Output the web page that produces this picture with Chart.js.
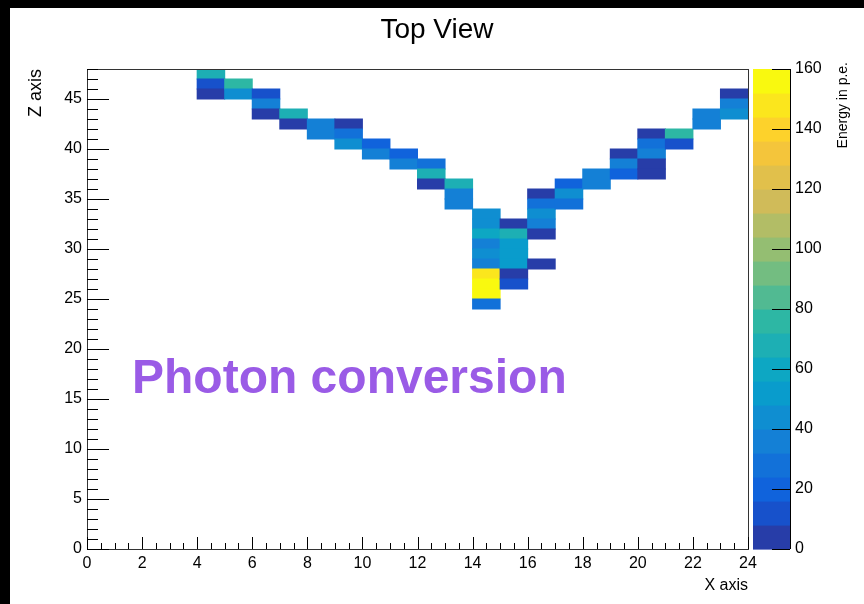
<!DOCTYPE html>
<html>
<head>
<meta charset="utf-8">
<script src="https://cdn.jsdelivr.net/npm/chart.js@4.4.1/dist/chart.umd.min.js"></script>
<style>
  html, body { margin: 0; padding: 0; background: #000; width: 864px; height: 604px; overflow: hidden; }
  #wrap { position: absolute; left: 10px; top: 8px; width: 854px; height: 596px; background: #fff; }
</style>
</head>
<body>
<div id="wrap"><canvas id="c" width="854" height="596"></canvas></div>
<script>
// Hit cells of the top view: lower edge of the X bin, lower edge of the Z bin, energy (p.e.)
const cellX = [4, 4, 4, 5, 5, 6, 6, 6, 7, 7, 8, 8, 9, 9, 9, 10, 10, 11, 11, 12, 12, 12, 13, 13, 13,
  14, 14, 14, 14, 14, 14, 14, 14, 14, 14, 15, 15, 15, 15, 15, 15, 15, 16, 16, 16, 16, 16, 16,
  17, 17, 17, 18, 18, 19, 19, 19, 20, 20, 20, 20, 20, 21, 21, 22, 22, 23, 23, 23];
const cellZ = [47, 46, 45, 46, 45, 45, 44, 43, 43, 42, 42, 41, 42, 41, 40, 40, 39, 39, 38, 38, 37, 36, 36, 35, 34,
  33, 32, 31, 30, 29, 28, 27, 26, 25, 24, 32, 31, 30, 29, 28, 27, 26, 35, 34, 33, 32, 31, 28,
  36, 35, 34, 37, 36, 39, 38, 37, 41, 40, 39, 38, 37, 41, 40, 43, 42, 45, 44, 43];
const cellE = [70, 12, 4, 74, 44, 12, 36, 4, 70, 4, 36, 38, 4, 28, 42, 16, 38, 16, 38, 28, 70, 4, 70, 38, 36,
  42, 44, 58, 36, 42, 36, 150, 158, 155, 30, 4, 66, 52, 50, 50, 4, 12, 4, 28, 44, 34, 4, 4,
  20, 46, 28, 38, 38, 4, 34, 20, 4, 28, 38, 4, 4, 72, 12, 36, 36, 4, 36, 40];

const xRange = [0, 24];
const zRange = [0, 48];
const energyMax = 160;
const nContours = 20;

// kBird palette stops
const birdStops = [0.0, 0.125, 0.25, 0.375, 0.5, 0.625, 0.75, 0.875, 1.0];
const birdRed   = [0.2082, 0.0592, 0.0780, 0.0232, 0.1802, 0.5301, 0.8186, 0.9956, 0.9764];
const birdGreen = [0.1664, 0.3599, 0.5041, 0.6419, 0.7178, 0.7492, 0.7328, 0.7862, 0.9832];
const birdBlue  = [0.5293, 0.8684, 0.8385, 0.7914, 0.6425, 0.4662, 0.3499, 0.1968, 0.0539];

function birdColor(f) {
  f = Math.max(0, Math.min(1, f));
  let s = 0;
  while (s < birdStops.length - 2 && f > birdStops[s + 1]) s++;
  const t = (f - birdStops[s]) / (birdStops[s + 1] - birdStops[s]);
  const mix = a => Math.round(255 * (a[s] + (a[s + 1] - a[s]) * t));
  return `rgb(${mix(birdRed)},${mix(birdGreen)},${mix(birdBlue)})`;
}
function levelColor(i) {
  const k = Math.floor((i + 0.99) * 255 / nContours);
  return birdColor(k / 255);
}
function energyColor(e) {
  const i = Math.max(0, Math.min(nContours - 1, Math.floor(0.01 + e * nContours / energyMax)));
  return levelColor(i);
}

const cells = cellX.map((x, i) => ({ x: x + 0.5, y: [cellZ[i], cellZ[i] + 1] }));
const cellColors = cellE.map(energyColor);

const FONT = '"Liberation Sans", Arial, Helvetica, sans-serif';

// frame, inward tick marks, colour bar and annotations
const decorations = {
  id: 'decorations',
  afterDraw(chart) {
    const { ctx, chartArea: a } = chart;
    const { x, y, gap, zc } = chart.scales;
    ctx.save();

    // colour bar: one band per contour level
    const barL = gap.left + 5, barR = zc.left;
    for (let i = 0; i < nContours; i++) {
      const yTop = zc.getPixelForValue((i + 1) * energyMax / nContours);
      const yBot = zc.getPixelForValue(i * energyMax / nContours);
      ctx.fillStyle = levelColor(i);
      ctx.fillRect(barL, yTop, barR - barL, yBot - yTop + 0.6);
    }
    ctx.strokeStyle = '#000';
    ctx.lineWidth = 1;
    ctx.beginPath();
    ctx.moveTo(Math.round(barR) + 0.5, a.top);
    ctx.lineTo(Math.round(barR) + 0.5, a.bottom);
    for (let v = 0; v <= energyMax; v += 20) {
      const py = Math.round(zc.getPixelForValue(v)) + 0.5;
      ctx.moveTo(barR - 18, py);
      ctx.lineTo(barR, py);
    }
    ctx.stroke();

    // plot frame
    ctx.strokeStyle = '#333';
    ctx.strokeRect(Math.round(a.left) + 0.5, Math.round(a.top) + 0.5,
      Math.round(a.right - a.left), Math.round(a.bottom - a.top));

    // tick marks drawn inside the frame
    ctx.strokeStyle = '#000';
    ctx.beginPath();
    for (let v = xRange[0]; v <= xRange[1] + 1e-9; v += 0.5) {
      const px = Math.round(x.getPixelForValue(v)) + 0.5;
      const len = (Math.abs(v % 2) < 1e-9) ? 12 : 6;
      ctx.moveTo(px, a.bottom);
      ctx.lineTo(px, a.bottom - len);
    }
    for (let v = zRange[0]; v <= zRange[1]; v += 1) {
      const py = Math.round(y.getPixelForValue(v)) + 0.5;
      const len = (v % 5 === 0) ? 22 : 11;
      ctx.moveTo(a.left, py);
      ctx.lineTo(a.left + len, py);
    }
    ctx.stroke();

    // colour bar title
    ctx.fillStyle = '#000';
    ctx.font = '14px ' + FONT;
    ctx.translate(zc.right - 21, a.top - 7);
    ctx.rotate(-Math.PI / 2);
    ctx.textAlign = 'right';
    ctx.textBaseline = 'middle';
    ctx.fillText('Energy in p.e.', 0, 0);
    ctx.setTransform(1, 0, 0, 1, 0, 0);

    // annotation
    ctx.fillStyle = '#9a5be6';
    ctx.font = 'bold 48px ' + FONT;
    ctx.textAlign = 'left';
    ctx.textBaseline = 'alphabetic';
    ctx.fillText('Photon conversion', 122, 385);
    ctx.restore();
  }
};

new Chart(document.getElementById('c'), {
  type: 'bar',
  data: {
    datasets: [{
      data: cells,
      backgroundColor: cellColors,
      borderWidth: 0,
      barPercentage: 1,
      categoryPercentage: 1,
      inflateAmount: 0.5
    }]
  },
  options: {
    responsive: false,
    animation: false,
    events: [],
    layout: { padding: 0 },
    plugins: {
      legend: { display: false },
      tooltip: { enabled: false },
      title: {
        display: true,
        text: 'Top View',
        color: '#000',
        font: { family: FONT, size: 28, weight: 'normal', lineHeight: 1.2 },
        padding: { top: 5, bottom: 22.4 }
      }
    },
    scales: {
      x: {
        type: 'linear', position: 'bottom', min: xRange[0], max: xRange[1], offset: false,
        grid: { display: false, drawTicks: false },
        border: { display: false },
        ticks: { stepSize: 2, color: '#000', padding: 5, font: { family: FONT, size: 16 }, maxRotation: 0 },
        title: { display: true, text: 'X axis', align: 'end', color: '#000',
                 font: { family: FONT, size: 16 }, padding: { top: 0, bottom: 9 } },
        afterFit: s => { s.height = 55; }
      },
      y: {
        type: 'linear', position: 'left', min: zRange[0], max: zRange[1],
        grid: { display: false, drawTicks: false },
        border: { display: false },
        ticks: { stepSize: 5, includeBounds: false, color: '#000', padding: 5, font: { family: FONT, size: 16 } },
        title: { display: true, text: 'Z axis', align: 'end', color: '#000',
                 font: { family: FONT, size: 18 }, padding: { top: 15, bottom: 0 } },
        afterFit: s => { s.width = 77; }
      },
      gap: {
        type: 'linear', position: 'right', weight: 0, display: true,
        grid: { display: false, drawTicks: false }, border: { display: false },
        ticks: { display: false },
        afterFit: s => { s.width = 42; }
      },
      zc: {
        type: 'linear', position: 'right', weight: 1, min: 0, max: energyMax,
        grid: { display: false, drawTicks: false }, border: { display: false },
        ticks: { stepSize: 20, color: '#000', padding: 5, font: { family: FONT, size: 16 } },
        afterFit: s => { s.width = 74; }
      }
    }
  },
  plugins: [decorations]
});
</script>
</body>
</html>
